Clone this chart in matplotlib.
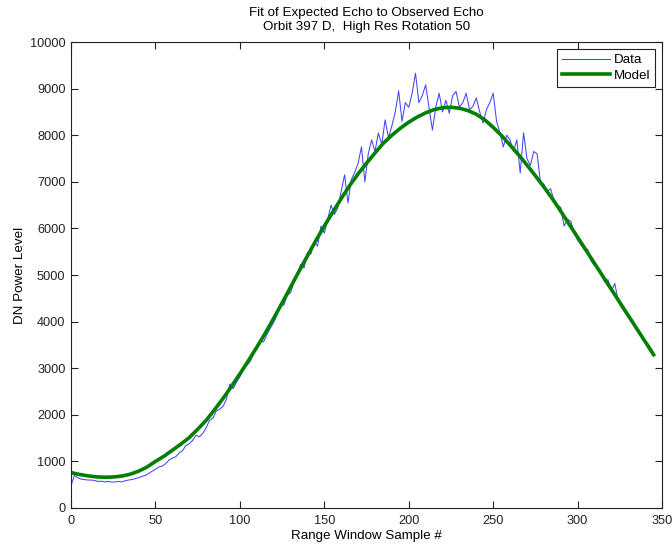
import matplotlib
matplotlib.use("Agg")
import matplotlib.pyplot as plt
import numpy as np

plt.rcParams['font.family'] = ['Liberation Sans', 'DejaVu Sans']

# fitted model, every 5 samples
model_x = list(range(0, 350, 5))
model_y = [760, 720, 690, 668, 660, 665, 685, 725, 790, 880,
           1000, 1110, 1240, 1370, 1510, 1690, 1880, 2110, 2350, 2610,
           2880, 3160, 3450, 3750, 4070, 4400, 4740, 5080, 5410, 5740,
           6050, 6350, 6640, 6920, 7170, 7400, 7620, 7830, 8000, 8150,
           8280, 8390, 8480, 8550, 8590, 8600, 8580, 8530, 8450, 8330,
           8170, 7990, 7790, 7580, 7360, 7130, 6890, 6640, 6370, 6090,
           5810, 5530, 5250, 4970, 4690, 4410, 4130, 3850, 3570, 3290]

# observed echo, every 2 samples
data_x = list(range(0, 346, 2))
data_y = [480, 700, 650, 620, 610, 600, 600, 590, 570, 575,
          560, 570, 555, 560, 570, 560, 585, 600, 610, 630,
          650, 680, 700, 740, 790,
          830, 880, 900, 950, 1030, 1070, 1100, 1180, 1230, 1340,
          1380, 1450, 1560, 1530, 1600, 1720, 1880, 1930, 2080, 2120,
          2180, 2330, 2660, 2560, 2700,
          2820, 2960, 3060, 3140, 3300, 3440, 3590, 3560, 3720, 3860,
          3980, 4150, 4390, 4350, 4560, 4620, 4850, 5000, 5230, 5150,
          5480, 5450, 5700, 5620, 6050,
          5900, 6200, 6500, 6300, 6450, 6800, 7150, 6550, 7050, 7200,
          7400, 7750, 7000, 7600, 7900, 7650, 8050, 7800, 8330, 7950,
          8200, 8500, 8950, 8300, 8700,
          8600, 8900, 9330, 8700, 8850, 9080, 8600, 8110, 8600, 8900,
          8500, 8750, 8470, 8850, 8940, 8600, 8700, 8900, 8550, 8620,
          8800, 8500, 8260, 8550, 8700,
          8900, 8300, 8050, 7750, 8000, 7900, 7650, 7900, 7190, 8050,
          7500, 7350, 7650, 7600, 7000, 6950, 6800, 6850, 6600, 6500,
          6450, 6050, 6200, 6150, 5900,
          5750, 5650, 5550, 5550, 5300, 5200, 5150, 5050, 4850, 4900,
          4650, 4820, 4450, 4300, 4200, 4100, 4050, 3900, 3800, 3650,
          3600, 3500, 3400]

fig = plt.figure(figsize=(6.72, 5.46), dpi=100)
ax = fig.add_axes([0.1057, 0.0696, 0.8795, 0.8534])

ax.plot(data_x, data_y, color='#4444ff', lw=0.75, label='Data')
ax.plot(model_x, model_y, color='#007f00', lw=2.6, label='Model')

ax.set_xlim(0, 350)
ax.set_ylim(0, 10000)
ax.set_xticks(np.arange(0, 351, 50))
ax.set_yticks(np.arange(0, 10001, 1000))
ax.tick_params(direction='in', top=True, right=True, length=5, width=0.8,
               labelsize=9.2, colors='#222222')
ax.tick_params(axis='x', pad=5)
ax.tick_params(axis='y', pad=4)
for s in ax.spines.values():
    s.set_color('#222222')
    s.set_linewidth(0.8)

ax.set_xlabel('Range Window Sample #', fontsize=9.6, labelpad=2)
ax.set_ylabel('DN Power Level', fontsize=9.6, labelpad=3)
ax.set_title('Fit of Expected Echo to Observed Echo\nOrbit 397 D,  High Res Rotation 50',
             fontsize=9.6, linespacing=1.15, pad=9)

leg = ax.legend(loc='upper right', fontsize=9.6, fancybox=False, framealpha=1,
                edgecolor='#222222', borderpad=0.35, handlelength=3.6,
                labelspacing=0.25, handletextpad=0.3, borderaxespad=0.55)
leg.get_frame().set_linewidth(0.8)

fig.savefig('out.png', dpi=100)
